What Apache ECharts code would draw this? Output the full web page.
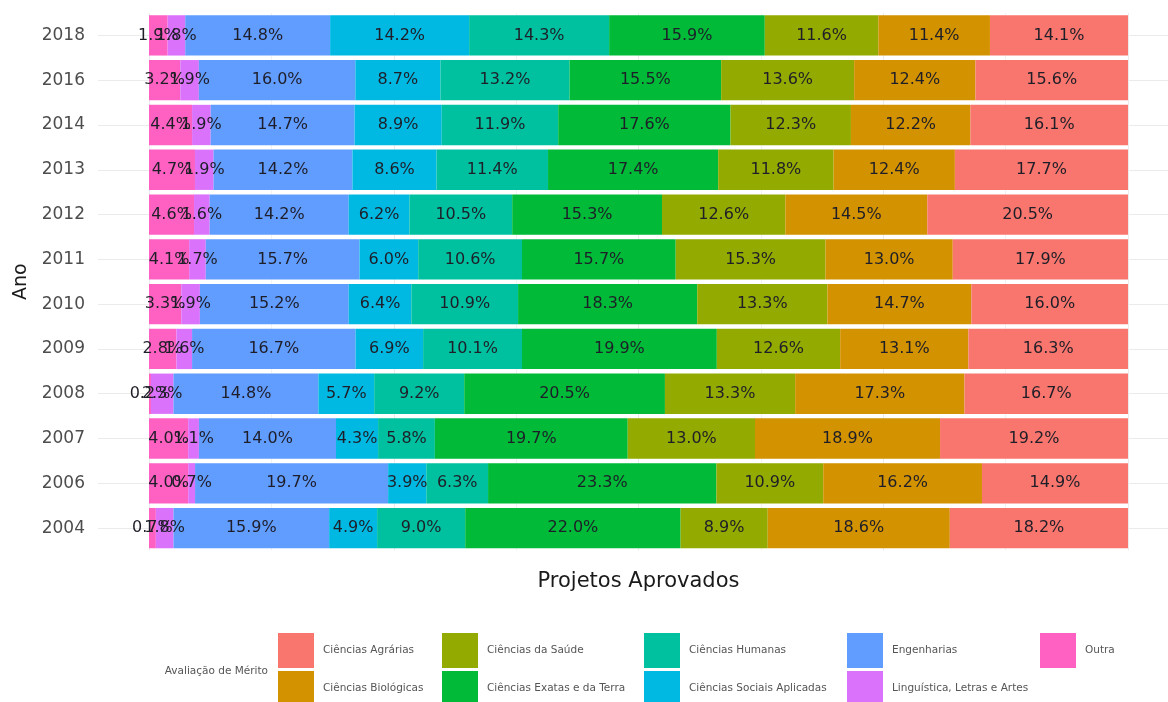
<!DOCTYPE html>
<html>
<head>
<meta charset="utf-8">
<script src="https://cdn.jsdelivr.net/npm/echarts@6/dist/echarts.min.js"></script>
<style>
html,body{margin:0;padding:0;background:#fff;}
#chart{width:1168px;height:702px;}
</style>
</head>
<body>
<div id="chart"></div>
<script>
// Years (bottom to top)
var years = ['2004','2006','2007','2008','2009','2010','2011','2012','2013','2014','2016','2018'];

// Percent values per area (same order as years)
var outra        = [0.7, 4.0, 4.0, 0.2, 2.8, 3.3, 4.1, 4.6, 4.7, 4.4, 3.2, 1.9];
var linguistica  = [1.8, 0.7, 1.1, 2.3, 1.6, 1.9, 1.7, 1.6, 1.9, 1.9, 1.9, 1.8];
var engenharias  = [15.9, 19.7, 14.0, 14.8, 16.7, 15.2, 15.7, 14.2, 14.2, 14.7, 16.0, 14.8];
var sociais      = [4.9, 3.9, 4.3, 5.7, 6.9, 6.4, 6.0, 6.2, 8.6, 8.9, 8.7, 14.2];
var humanas      = [9.0, 6.3, 5.8, 9.2, 10.1, 10.9, 10.6, 10.5, 11.4, 11.9, 13.2, 14.3];
var exatas       = [22.0, 23.3, 19.7, 20.5, 19.9, 18.3, 15.7, 15.3, 17.4, 17.6, 15.5, 15.9];
var saude        = [8.9, 10.9, 13.0, 13.3, 12.6, 13.3, 15.3, 12.6, 11.8, 12.3, 13.6, 11.6];
var biologicas   = [18.6, 16.2, 18.9, 17.3, 13.1, 14.7, 13.0, 14.5, 12.4, 12.2, 12.4, 11.4];
var agrarias     = [18.2, 14.9, 19.2, 16.7, 16.3, 16.0, 17.9, 20.5, 17.7, 16.1, 15.6, 14.1];

var seriesNames = ['Outra','Linguística, Letras e Artes','Engenharias','Ciências Sociais Aplicadas',
  'Ciências Humanas','Ciências Exatas e da Terra','Ciências da Saúde','Ciências Biológicas','Ciências Agrárias'];
var seriesValues = [outra, linguistica, engenharias, sociais, humanas, exatas, saude, biologicas, agrarias];
var seriesColors = ['#FF61C3','#DB72FB','#619CFF','#00B9E3','#00C19F','#00BA38','#93AA00','#D39200','#F8766D'];

var FONT = 'DejaVu Sans';

// totals per year for 100% stacking
var totals = years.map(function(_, i){
  return seriesValues.reduce(function(s, arr){ return s + arr[i]; }, 0);
});

var series = seriesNames.map(function(name, k){
  var vals = seriesValues[k];
  return {
    name: name,
    type: 'bar',
    stack: 'total',
    barCategoryGap: '10%',
    itemStyle: { color: seriesColors[k] },
    label: {
      show: true,
      position: 'inside',
      color: '#1e1e28',
      fontFamily: FONT,
      fontSize: 16,
      textBorderWidth: 0,
      formatter: function(p){ return vals[p.dataIndex].toFixed(1) + '%'; }
    },
    emphasis: { disabled: true },
    data: vals.map(function(v, i){ return v / totals[i] * 100; })
  };
});

function legendCol(left, names){
  return {
    orient: 'vertical',
    left: left,
    top: 633,
    height: 120,
    itemWidth: 36,
    itemHeight: 35,
    itemGap: 3,
    icon: 'rect',
    selectedMode: false,
    padding: 0,
    textStyle: { fontFamily: FONT, fontSize: 10.5, color: '#555555', padding: [0,0,0,4] },
    data: names
  };
}

var chart = echarts.init(document.getElementById('chart'));
chart.setOption({
  animation: false,
  backgroundColor: '#ffffff',
  grid: { left: 149, width: 979, top: 13, height: 537.5 },
  xAxis: {
    type: 'value',
    min: 0, max: 100, interval: 25,
    axisLine: { show: false }, axisTick: { show: false }, axisLabel: { show: false },
    splitLine: { show: true, lineStyle: { color: '#EBEBEB', width: 1 } },
    minorTick: { show: false, splitNumber: 2 },
    minorSplitLine: { show: true, lineStyle: { color: '#F2F2F2', width: 1 } },
    name: 'Projetos Aprovados',
    nameLocation: 'middle',
    nameGap: 21,
    nameTextStyle: { fontFamily: FONT, fontSize: 21, color: '#1a1a1a' }
  },
  yAxis: [{
    type: 'category',
    data: years,
    axisLine: { show: false },
    axisTick: { show: true, alignWithLabel: true, length: 51, lineStyle: { color: '#EBEBEB', width: 1 } },
    axisLabel: { margin: 64, fontFamily: FONT, fontSize: 17, color: '#4D4D4D' },
    splitLine: { show: false },
    name: 'Ano',
    nameLocation: 'middle',
    nameGap: 116,
    nameRotate: 90,
    nameTextStyle: { fontFamily: FONT, fontSize: 19, color: '#1a1a1a' }
  }, {
    type: 'category',
    position: 'right',
    data: years,
    axisLine: { show: false },
    axisTick: { show: true, alignWithLabel: true, length: 45, lineStyle: { color: '#EBEBEB', width: 1 } },
    axisLabel: { show: false },
    splitLine: { show: false }
  }],
  legend: [
    legendCol(278, ['Ciências Agrárias','Ciências Biológicas']),
    legendCol(442, ['Ciências da Saúde','Ciências Exatas e da Terra']),
    legendCol(644, ['Ciências Humanas','Ciências Sociais Aplicadas']),
    legendCol(847, ['Engenharias','Linguística, Letras e Artes']),
    legendCol(1040, ['Outra'])
  ],
  graphic: [{
    type: 'text',
    x: 268, y: 671,
    style: { text: 'Avaliação de Mérito', fontFamily: FONT, fontSize: 10.5, fill: '#555555',
             textAlign: 'right', textVerticalAlign: 'middle' }
  }],
  series: series
});
</script>
</body>
</html>
